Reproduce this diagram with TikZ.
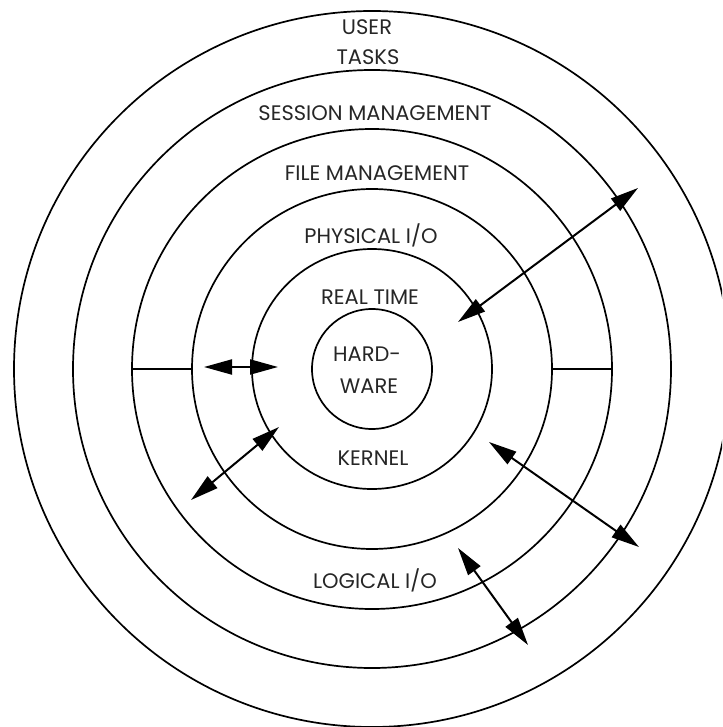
\documentclass[tikz,border=0pt]{standalone}
\usepackage{fontspec}
\setmainfont{Poppins}
\usetikzlibrary{arrows.meta}
\begin{document}
\begin{tikzpicture}[x=1pt,y=-1pt,
  ring/.style={line width=1.7pt},
  divider/.style={line width=1.3pt},
  link/.style={line width=2pt,{Triangle[length=28pt,width=15pt]}-{Triangle[length=28pt,width=15pt]}},
  layer/.style={font=\fontsize{21}{23}\selectfont, text=black!85, inner sep=0pt}]
\useasboundingbox (0,0) rectangle (722,727);
\clip (0,0) rectangle (722,727);
% concentric layers
\coordinate (c) at (372,369);
\foreach \r in {60,120,180,240,299,358}
  \draw[ring] (c) circle[radius=\r];
% dividers between physical I/O and file management
\coordinate (dl1) at (132,369); \coordinate (dl2) at (193,369);
\coordinate (dr1) at (552,369); \coordinate (dr2) at (612,369);
\draw[divider] (dl1) -- (dl2);
\draw[divider] (dr1) -- (dr2);
% layer names
\node[layer] (user)    at (367,27)  {USER};
\node[layer] (tasks)   at (368,57)  {TASKS};
\node[layer] (session) at (375,113) {SESSION MANAGEMENT};
\node[layer] (file)    at (377,173) {FILE MANAGEMENT};
\node[layer] (phys)    at (371,235) {PHYSICAL I/O};
\node[layer] (rt)      at (370,297) {REAL TIME};
\node[layer] (hard)    at (367,354) {HARD-};
\node[layer] (ware)    at (369,386) {WARE};
\node[layer] (kernel)  at (373,458) {KERNEL};
\node[layer] (logical) at (375,580) {LOGICAL I/O};
% two-way links
\coordinate (a1s) at (458,322); \coordinate (a1e) at (638,188);
\coordinate (a2s) at (204,367); \coordinate (a2e) at (278,367);
\coordinate (a3s) at (191,500); \coordinate (a3e) at (279,427);
\coordinate (a4s) at (489,442); \coordinate (a4e) at (639,547);
\coordinate (a5s) at (458,548); \coordinate (a5e) at (528,645);
\draw[link] (a1s) -- (a1e);
\draw[link] (a2s) -- (a2e);
\draw[link] (a3s) -- (a3e);
\draw[link] (a4s) -- (a4e);
\draw[link] (a5s) -- (a5e);
\end{tikzpicture}
\end{document}
